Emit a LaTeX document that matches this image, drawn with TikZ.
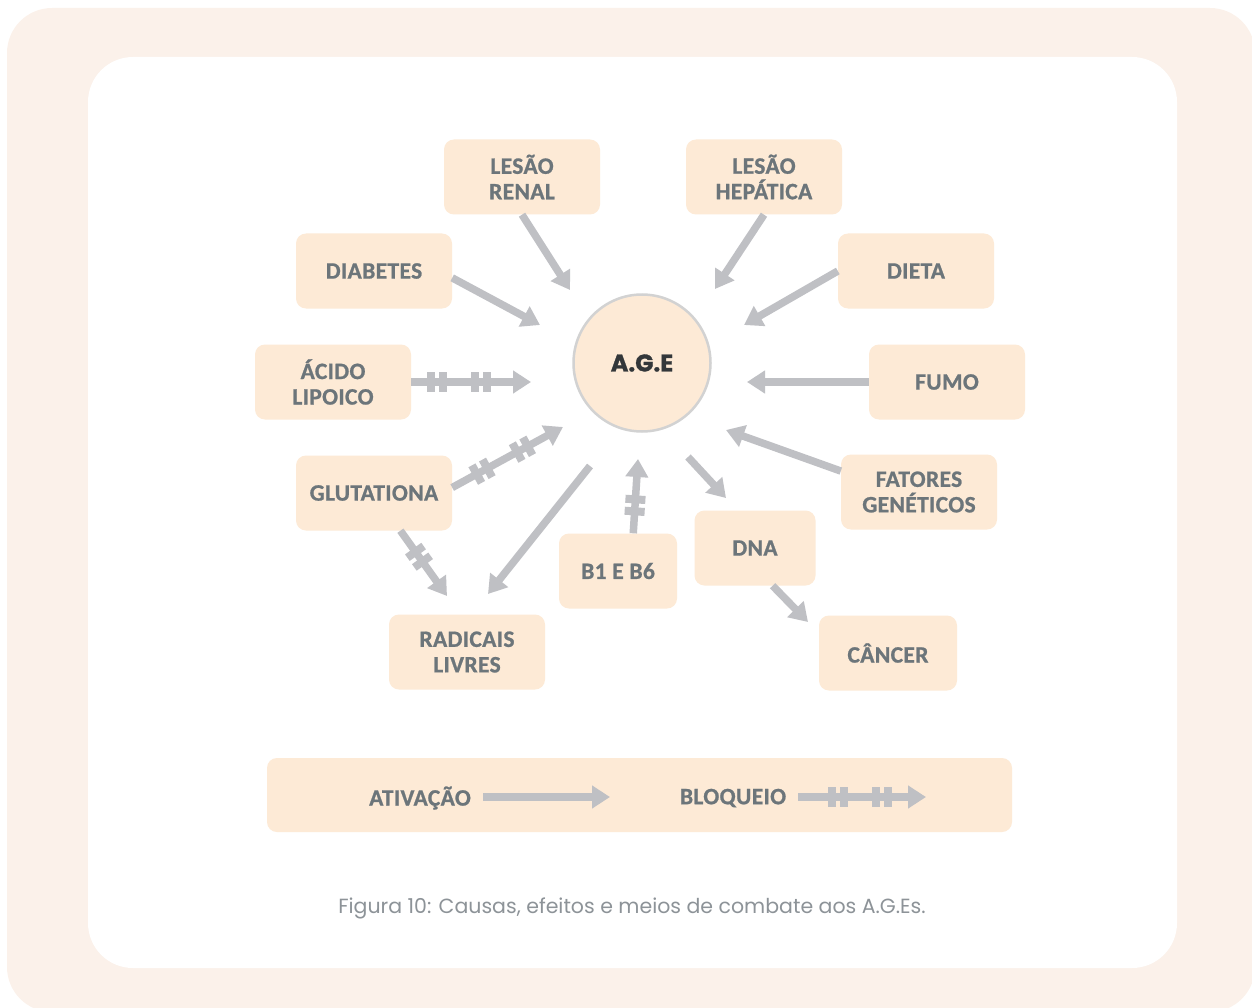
\documentclass[tikz,border=0pt]{standalone}
\usepackage{fontspec}
\setmainfont{Carlito}
\newfontfamily\popfont{Poppins}
\newfontfamily\agefont{Poppins}[BoldFeatures={FakeBold=1.2}]
\newfontfamily\boxfont{Carlito Bold}[FakeBold=0.9, LetterSpace=1.5]
\usetikzlibrary{arrows.meta,decorations.markings}
\definecolor{outerbg}{HTML}{FBF1EA}
\definecolor{boxfill}{HTML}{FDEAD6}
\definecolor{arrowgray}{HTML}{BFC0C4}
\definecolor{txtgray}{HTML}{6C757A}
\definecolor{circborder}{HTML}{D2D2D2}
\definecolor{capgray}{HTML}{8D9398}
\definecolor{agetext}{HTML}{33373A}
\newcommand\tkpair{\fill[arrowgray] (-10,-10) rectangle (-2,10); \fill[arrowgray] (2,-10) rectangle (10,10);}
\begin{document}
\begin{tikzpicture}[x=1pt,y=-1pt,
  box/.style={fill=boxfill, rounded corners=10pt, minimum width=156pt, minimum height=75pt, align=center, text=txtgray, font=\boxfont\fontsize{23.5}{25.5}\selectfont, inner sep=0pt},
  lbl/.style={text=txtgray, font=\boxfont\fontsize{23.5}{25.5}\selectfont, inner sep=0pt},
  act/.style={draw=arrowgray, line width=7.5pt, -{Triangle[length=18pt,width=22pt]}},
  blkone/.style={act, postaction={decorate, decoration={markings, mark=at position #1 with {\tkpair}}}},
  blktwo/.style 2 args={act, postaction={decorate, decoration={markings, mark=at position #1 with {\tkpair}, mark=at position #2 with {\tkpair}}}},
]
\useasboundingbox (0,0) rectangle (1252,1008);
\fill[outerbg, rounded corners=45pt] (7,8) rectangle (1255,1012);
\fill[white, rounded corners=45pt] (88,57) rectangle (1177,968);

% nodes
\node[box] (renal) at (522,177) {LESÃO\\RENAL};
\node[box] (hep) at (764,177) {LESÃO\\HEPÁTICA};
\node[box] (diab) at (374,271) {DIABETES};
\node[box] (dieta) at (916,271) {DIETA};
\node[box] (acido) at (333,382) {ÁCIDO\\LIPOICO};
\node[box] (fumo) at (947,382) {FUMO};
\node[box] (glut) at (374,493) {GLUTATIONA};
\node[box] (fat) at (919,492) {FATORES\\GENÉTICOS};
\node[box, minimum width=121pt] (dna) at (755,548) {DNA};
\node[box, minimum width=118pt] (b1) at (618,571) {B1 E B6};
\node[box] (rad) at (467,652) {RADICAIS\\LIVRES};
\node[box, minimum width=138pt] (cancer) at (888,653) {CÂNCER};
\node[circle, fill=boxfill, draw=circborder, line width=2.5pt, minimum size=137pt, inner sep=0pt, font=\agefont\bfseries\fontsize{24}{28}\selectfont, text=agetext] (age) at (642,363) {A.G.E};

% arrow end points
\coordinate (erenal) at (570,290);
\coordinate (ehep) at (715,289);
\coordinate (ediab) at (540,325);
\coordinate (edieta) at (744,325);
\coordinate (eacido) at (531,382);
\coordinate (efumo) at (747,382);
\coordinate (eglut) at (563,427);
\coordinate (efat) at (726,430);
\coordinate (sdna) at (688,457);
\coordinate (edna) at (726,498);
\coordinate (ecancer) at (808,622);
\coordinate (eb1) at (638,459);
\coordinate (srad) at (590,466);
\coordinate (erad) at (488,594);
\coordinate (eglutrad) at (447,596);

% arrows
\draw[act] (renal.south) -- (erenal);
\draw[act] (hep.south) -- (ehep);
\draw[act] (diab.-5) -- (ediab);
\draw[act] (dieta.west) -- (edieta);
\draw[blktwo={26pt}{70pt}] (acido.east) -- (eacido);
\draw[act] (fumo.west) -- (efumo);
\draw[blktwo={34pt}{80pt}] (glut.4) -- (eglut);
\draw[act] (fat.165) -- (efat);
\draw[act] (sdna) -- (edna);
\draw[act] (dna.-65) -- (ecancer);
\draw[blkone={28pt}] (b1.68) -- (eb1);
\draw[act] (srad) -- (erad);
\draw[blkone={32pt}] (glut.-55) -- (eglutrad);

% legend
\node[box, minimum width=745pt, minimum height=74pt] (legend) at (639.5,795) {};
\node[lbl] (ativ) at (420,798) {ATIVAÇÃO};
\node[lbl] (bloq) at (733,798) {BLOQUEIO};
\coordinate (la1) at (483,797);
\coordinate (la2) at (610,797);
\coordinate (lb1) at (798,797);
\coordinate (lb2) at (926,797);
\draw[act] (la1) -- (la2);
\draw[blktwo={40pt}{84pt}] (lb1) -- (lb2);

% caption
\node[text=capgray, font=\popfont\fontsize{20.5}{24}\selectfont, inner sep=0pt] (cap) at (632,908) {Figura 10: Causas, efeitos e meios de combate aos A.G.Es.};
\end{tikzpicture}
\end{document}
